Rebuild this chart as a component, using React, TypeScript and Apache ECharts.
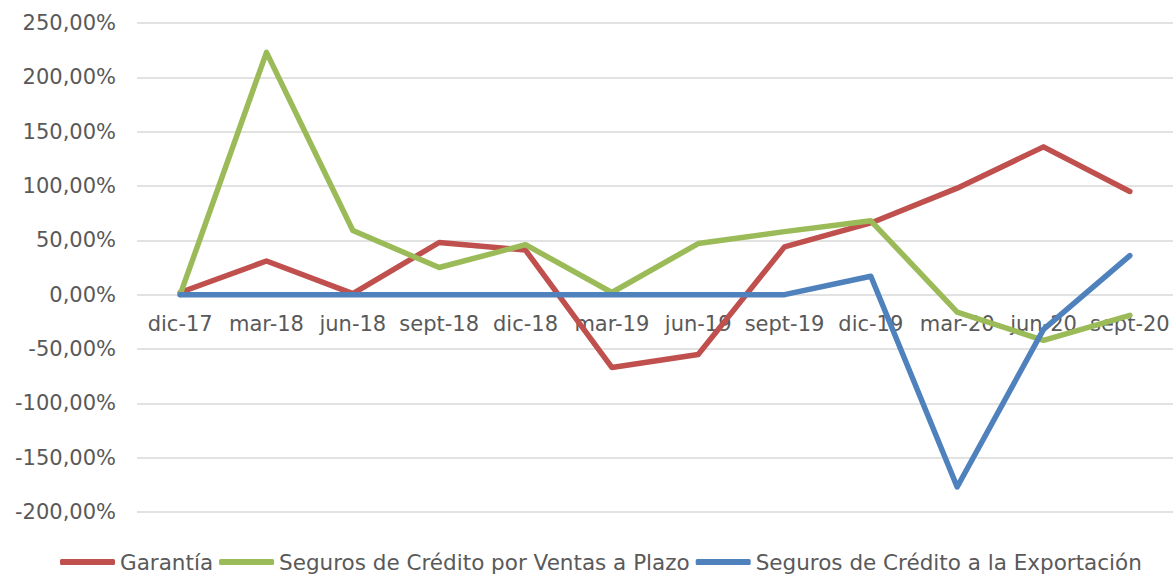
import React, { useEffect, useRef } from "react";
import * as echarts from "echarts";

const categories = [
  "dic-17", "mar-18", "jun-18", "sept-18", "dic-18", "mar-19",
  "jun-19", "sept-19", "dic-19", "mar-20", "jun-20", "sept-20",
];
const garantia = [2, 31, 1, 48, 41, -67, -55, 44, 66, 98, 136, 95];
const segurosPlazo = [0, 223, 59, 25, 46, 2, 47, 58, 68, -16, -42, -19];
const segurosExport = [0, 0, 0, 0, 0, 0, 0, 0, 17, -177, -32, 36];
const seriesNames = [
  "Garantía",
  "Seguros de Crédito por Ventas a Plazo",
  "Seguros de Crédito a la Exportación",
];
const colors = ["#C0504D", "#9BBB59", "#4F81BD"];

export default function App() {
  const ref = useRef<HTMLDivElement>(null);
  useEffect(() => {
    document.body.style.margin = "0";
    const chart = echarts.init(ref.current!, null, { renderer: "svg" });
    const font = "DejaVu Sans";
    const mk = (name: string, data: number[], color: string) => ({
      name,
      type: "line",
      data,
      symbol: "none",
      itemStyle: { color },
      lineStyle: { color, width: 5.5, cap: "round", join: "round" },
    });
    chart.setOption({
      animation: false,
      textStyle: { fontFamily: font },
      grid: { left: 137, right: 0, top: 23, bottom: 62 },
      legend: {
        top: 546,
        left: 55,
        icon: "roundRect",
        itemWidth: 55,
        itemHeight: 6,
        itemGap: 6,
        textStyle: { color: "#595959", fontSize: 21.5, fontFamily: font },
        data: seriesNames,
      },
      xAxis: {
        type: "category",
        data: categories,
        boundaryGap: true,
        axisLine: { show: false },
        axisTick: { show: false },
        axisLabel: { interval: 0, color: "#595959", fontSize: 21, margin: -199, fontFamily: font },
      },
      yAxis: {
        type: "value",
        min: -200,
        max: 250,
        interval: 50,
        axisLine: { show: false },
        axisTick: { show: false },
        splitLine: { lineStyle: { color: "#D9D9D9", width: 1.5 } },
        axisLabel: {
          color: "#595959",
          fontSize: 21,
          margin: 21,
          fontFamily: font,
          formatter: (v: number) => v.toFixed(2).replace(".", ",") + "%",
        },
      },
      series: [
        mk(seriesNames[0], garantia, colors[0]),
        mk(seriesNames[1], segurosPlazo, colors[1]),
        mk(seriesNames[2], segurosExport, colors[2]),
      ],
    });
    return () => chart.dispose();
  }, []);
  return <div ref={ref} style={{ width: 1173, height: 574 }} />;
}
